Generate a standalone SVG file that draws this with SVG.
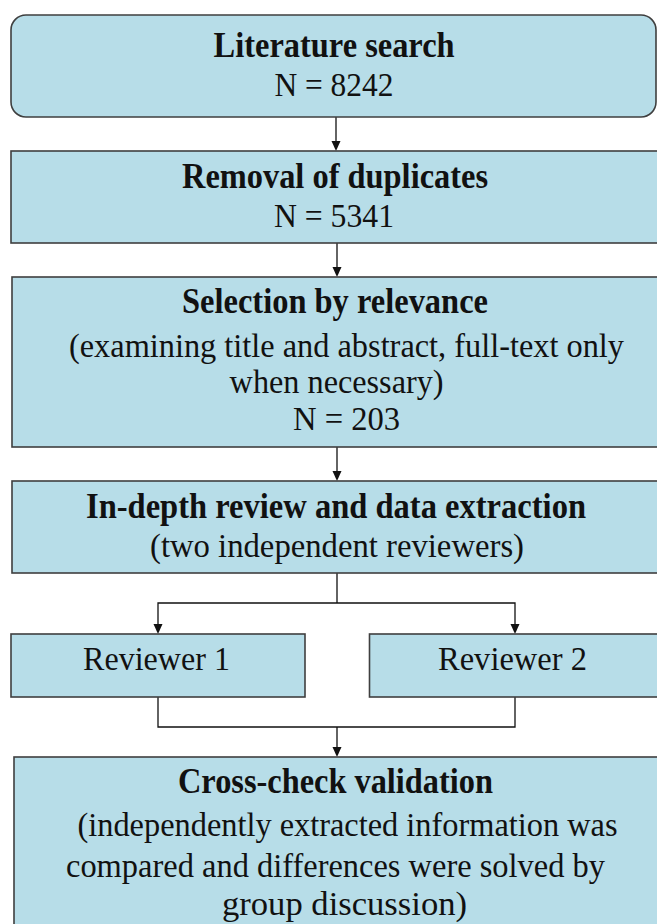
<svg xmlns="http://www.w3.org/2000/svg" width="657" height="924" viewBox="0 0 657 924">
<style>
.box{fill:#b7dde8;stroke:#3f3f3f;stroke-width:1.6}
.t{font-family:"Liberation Serif","Times New Roman",serif;font-size:34px;fill:#111}
.b{font-weight:bold;font-size:35px}
.c{fill:none;stroke:#111;stroke-width:1.3}
.ah{fill:#111}
</style>
<rect width="657" height="924" fill="#ffffff"/>
<g id="connectors">
<path class="c" d="M336,117 V141" />
<path class="ah" d="M331.5,141 L340.5,141 L336,151 Z"/>
<path class="c" d="M337,243 V267" />
<path class="ah" d="M332.5,267 L341.5,267 L337,277 Z"/>
<path class="c" d="M337,447 V471" />
<path class="ah" d="M332.5,471 L341.5,471 L337,481 Z"/>
<path class="c" d="M337,573 V603 M158,624 V603 H515 V624" />
<path class="ah" d="M153.5,624 L162.5,624 L158,634 Z"/>
<path class="ah" d="M510.5,624 L519.5,624 L515,634 Z"/>
<path class="c" d="M158,697 V727 H515 V697 M337,727 V747" />
<path class="ah" d="M332.5,747 L341.5,747 L337,757 Z"/>
</g>
<g id="n1">
<rect class="box" x="11" y="15" width="645" height="102" rx="15" ry="15"/>
<text class="t b" x="213.6" y="57" textLength="241" lengthAdjust="spacingAndGlyphs">Literature search</text>
<text class="t" x="274.4" y="96" textLength="119" lengthAdjust="spacingAndGlyphs">N = 8242</text>
</g>
<g id="n2">
<rect class="box" x="11" y="151" width="660" height="92"/>
<text class="t b" x="182" y="188" textLength="306" lengthAdjust="spacingAndGlyphs">Removal of duplicates</text>
<text class="t" x="274" y="227" textLength="120" lengthAdjust="spacingAndGlyphs">N = 5341</text>
</g>
<g id="n3">
<rect class="box" x="12" y="277" width="660" height="170"/>
<text class="t b" x="182" y="313" textLength="306" lengthAdjust="spacingAndGlyphs">Selection by relevance</text>
<text class="t" x="69" y="356.5" textLength="555" lengthAdjust="spacingAndGlyphs">(examining title and abstract, full-text only</text>
<text class="t" x="229.6" y="393" textLength="214" lengthAdjust="spacingAndGlyphs">when necessary)</text>
<text class="t" x="293" y="430" textLength="107" lengthAdjust="spacingAndGlyphs">N = 203</text>
</g>
<g id="n4">
<rect class="box" x="12" y="481" width="660" height="92"/>
<text class="t b" x="86" y="518" textLength="500" lengthAdjust="spacingAndGlyphs">In-depth review and data extraction</text>
<text class="t" x="150" y="557" textLength="374" lengthAdjust="spacingAndGlyphs">(two independent reviewers)</text>
</g>
<g id="n5">
<rect class="box" x="11" y="634" width="294" height="63"/>
<text class="t" x="83" y="670" textLength="147" lengthAdjust="spacingAndGlyphs">Reviewer 1</text>
</g>
<g id="n6">
<rect class="box" x="369.5" y="634" width="300" height="63"/>
<text class="t" x="438" y="670" textLength="149" lengthAdjust="spacingAndGlyphs">Reviewer 2</text>
</g>
<g id="n7">
<rect class="box" x="14" y="757" width="660" height="180"/>
<text class="t b" x="178" y="793" textLength="315" lengthAdjust="spacingAndGlyphs">Cross-check validation</text>
<text class="t" x="77.5" y="835.5" textLength="540" lengthAdjust="spacingAndGlyphs">(independently extracted information was</text>
<text class="t" x="66" y="877" textLength="539" lengthAdjust="spacingAndGlyphs">compared and differences were solved by</text>
<text class="t" x="222" y="915" textLength="245" lengthAdjust="spacingAndGlyphs">group discussion)</text>
</g>
</svg>
